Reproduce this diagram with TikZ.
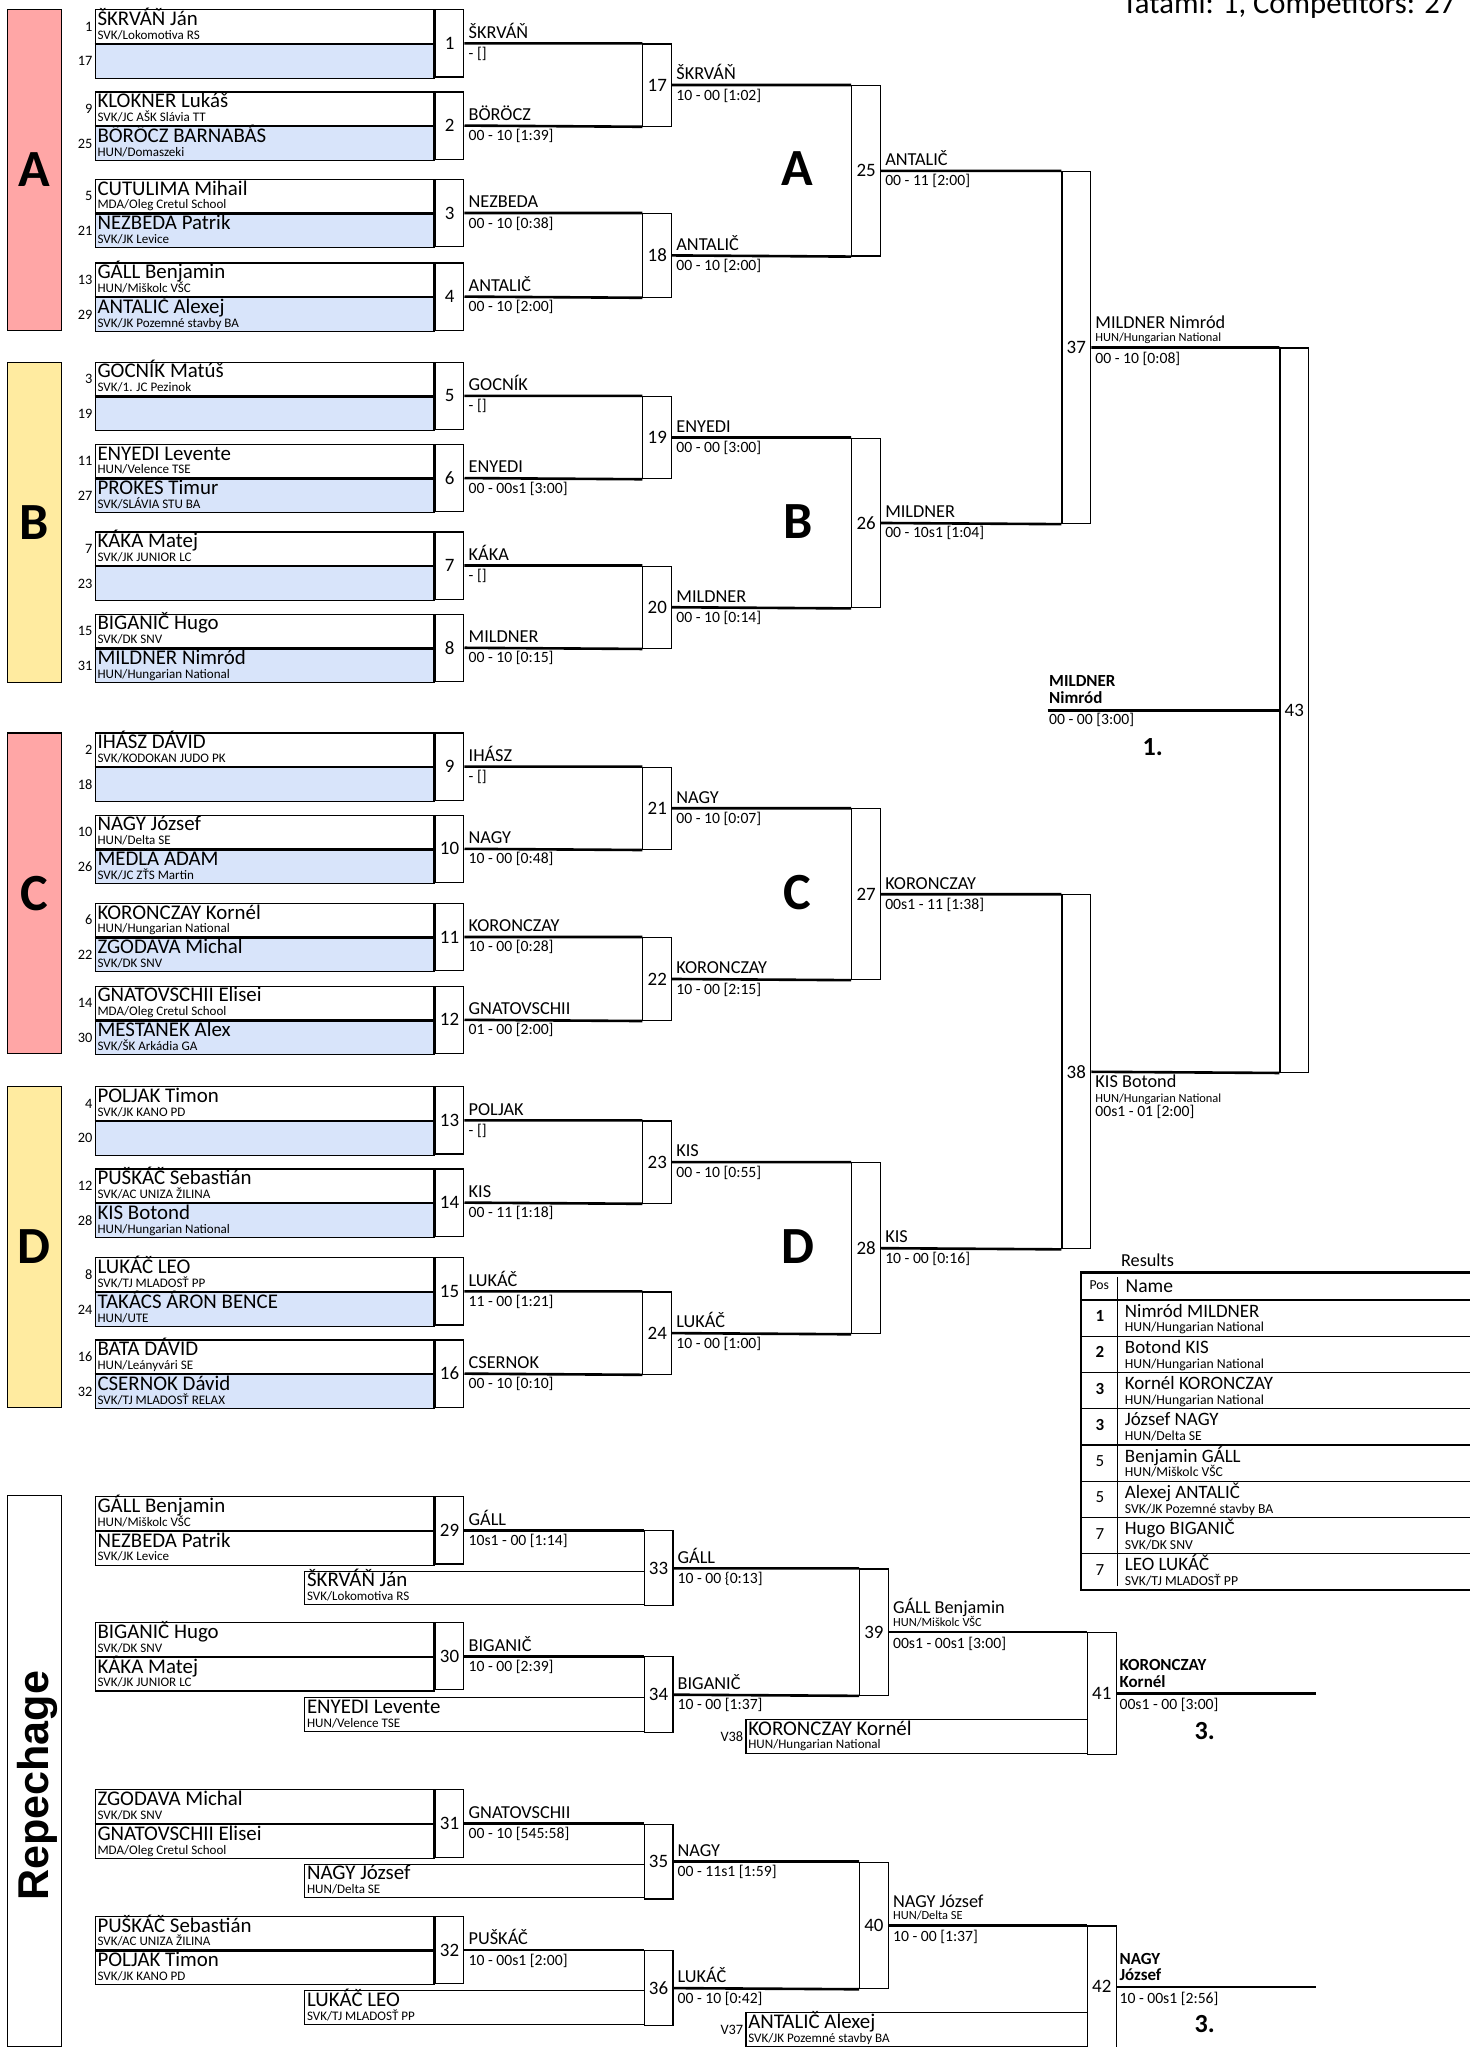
\documentclass[tikz,border=0pt]{standalone}
\usepackage{fontspec}
\setmainfont{Carlito}
\newfontfamily\repfont{Liberation Sans}
\usetikzlibrary{positioning,calc}

\definecolor{poolred}{RGB}{255,166,166}
\definecolor{poolyellow}{RGB}{255,235,160}
\definecolor{seedblue}{RGB}{216,228,250}

\newcommand{\fsz}[1]{\fontsize{#1}{#1}\selectfont}

\tikzset{
  cbox/.style={draw, line width=0.9pt, minimum width=259.5pt, minimum height=25.75pt, inner sep=0pt, anchor=north west},
  nbox/.style={draw, line width=0.9pt, minimum width=22pt, minimum height=51.5pt, inner sep=0pt, anchor=north west, font=\fsz{14.5}},
  rbox/.style={draw, line width=0.9pt, minimum width=22pt, inner sep=0pt, font=\fsz{14.5}},
  poolbox/.style={draw, line width=0.9pt, minimum width=41.5pt, minimum height=245.5pt, inner sep=0pt, anchor=north west, font=\bfseries\fsz{40}},
  bigletter/.style={font=\bfseries\fsz{40}, inner sep=0pt},
  seedlab/.style={font=\fsz{11}, inner sep=1.5pt},
  cname/.style={anchor=base west, inner sep=0pt, font=\fsz{16}},
  cclub/.style={anchor=base west, inner sep=0pt, font=\fsz{10}},
  wlab/.style={anchor=base west, inner sep=0pt, font=\fsz{14}},
  clab/.style={anchor=base west, inner sep=0pt, font=\fsz{9.5}},
  slab/.style={anchor=base west, inner sep=0pt, font=\fsz{12}},
  blab/.style={anchor=base west, inner sep=0pt, font=\bfseries\fsz{13}},
  place/.style={anchor=base west, inner sep=0pt, font=\bfseries\fsz{20}},
  winline/.style={line width=2pt},
  split/.style={line width=1.6pt},
  tabline/.style={line width=1pt},
}

% competitor box: node, position, fill, seed, name, club
\newcommand{\competitor}[6]{%
  \node[cbox, fill=#3, label={[seedlab]left:#4}] (#1) at #2 {};
  \node[cname] (#1n) at ([shift={(2,12.5)}]#1.north west) {#5};
  \node[cclub] (#1c) at ([shift={(2,23)}]#1.north west) {#6};
}
% single box: node, position, width, tag, name, club
\newcommand{\lonebox}[6]{%
  \node[cbox, minimum width=#3pt, fill=white, label={[seedlab]left:#4}] (#1) at #2 {};
  \node[cname] (#1n) at ([shift={(2,12.5)}]#1.north west) {#5};
  \node[cclub] (#1c) at ([shift={(2,23)}]#1.north west) {#6};
}
\newcommand{\result}[3]{%
  \node[wlab] (#1w) at ([shift={(3,-4)}]#1.east) {#2};
  \node[slab] (#1s) at ([shift={(3,11.5)}]#1.east) {#3};
}
% first bout: number, upper competitor, winner, score
\newcommand{\bout}[4]{%
  \node[nbox] (m#1) at (#2.north east) {#1};
  \draw[split] (#2.south west) -- (#2.south east);
  \result{m#1}{#3}{#4}
}
% later bout: node, left x, upper end, lower end, number
\newcommand{\roundbox}[5]{%
  \path let \p1=(#3), \p2=(#4) in
    node[rbox, anchor=north west, minimum height={\y1-(\y2)}] (#1) at (#2pt,\y1) {#5};
}

\begin{document}
\begin{tikzpicture}[x=1pt, y=-1pt]
\useasboundingbox (0,0) rectangle (1126,1568);
\node[anchor=base east, inner sep=0pt, font=\fsz{23.5}] (title) at (1115,10) {Tatami: 1, Competitors: 27};

% pool A
\node[poolbox, fill=poolred] (poolA) at (5,7) {A};
\competitor{s1}{(72.5,7)}{white}{1}{ŠKRVÁŇ Ján}{SVK/Lokomotiva RS}
\competitor{s17}{(s1.south west)}{seedblue}{17}{}{}
\bout{1}{s1}{ŠKRVÁŇ}{- []}
\competitor{s9}{(72.5,70)}{white}{9}{KLOKNER Lukáš}{SVK/JC AŠK Slávia TT}
\competitor{s25}{(s9.south west)}{seedblue}{25}{BÖRÖCZ BARNABÁS}{HUN/Domaszeki}
\bout{2}{s9}{BÖRÖCZ}{00 - 10 [1:39]}
\competitor{s5}{(72.5,137)}{white}{5}{CUTULIMA Mihail}{MDA/Oleg Cretul School}
\competitor{s21}{(s5.south west)}{seedblue}{21}{NEZBEDA Patrik}{SVK/JK Levice}
\bout{3}{s5}{NEZBEDA}{00 - 10 [0:38]}
\competitor{s13}{(72.5,201)}{white}{13}{GÁLL Benjamin}{HUN/Miškolc VŠC}
\competitor{s29}{(s13.south west)}{seedblue}{29}{ANTALIČ Alexej}{SVK/JK Pozemné stavby BA}
\bout{4}{s13}{ANTALIČ}{00 - 10 [2:00]}
\roundbox{m17}{492}{m1.east}{m2.east}{17}
\result{m17}{ŠKRVÁŇ}{10 - 00 [1:02]}
\roundbox{m18}{492}{m3.east}{m4.east}{18}
\result{m18}{ANTALIČ}{00 - 10 [2:00]}
\roundbox{m25}{652}{m17.east}{m18.east}{25}
\result{m25}{ANTALIČ}{00 - 11 [2:00]}
\node[bigletter] (letA) at ([shift={(-41,-2)}]m25.west) {A};

% pool B
\node[poolbox, fill=poolyellow] (poolB) at (5,277) {B};
\competitor{s3}{(72.5,277)}{white}{3}{GOCNÍK Matúš}{SVK/1. JC Pezinok}
\competitor{s19}{(s3.south west)}{seedblue}{19}{}{}
\bout{5}{s3}{GOCNÍK}{- []}
\competitor{s11}{(72.5,340)}{white}{11}{ENYEDI Levente}{HUN/Velence TSE}
\competitor{s27}{(s11.south west)}{seedblue}{27}{PROKEŠ Timur}{SVK/SLÁVIA STU BA}
\bout{6}{s11}{ENYEDI}{00 - 00s1 [3:00]}
\competitor{s7}{(72.5,407)}{white}{7}{KÁKA Matej}{SVK/JK JUNIOR LC}
\competitor{s23}{(s7.south west)}{seedblue}{23}{}{}
\bout{7}{s7}{KÁKA}{- []}
\competitor{s15}{(72.5,470)}{white}{15}{BIGANIČ Hugo}{SVK/DK SNV}
\competitor{s31}{(s15.south west)}{seedblue}{31}{MILDNER Nimród}{HUN/Hungarian National}
\bout{8}{s15}{MILDNER}{00 - 10 [0:15]}
\roundbox{m19}{492}{m5.east}{m6.east}{19}
\result{m19}{ENYEDI}{00 - 00 [3:00]}
\roundbox{m20}{492}{m7.east}{m8.east}{20}
\result{m20}{MILDNER}{00 - 10 [0:14]}
\roundbox{m26}{652}{m19.east}{m20.east}{26}
\result{m26}{MILDNER}{00 - 10s1 [1:04]}
\node[bigletter] (letB) at ([shift={(-41,-1)}]m26.west) {B};

% pool C
\node[poolbox, fill=poolred] (poolC) at (5,561) {C};
\competitor{s2}{(72.5,561)}{white}{2}{IHÁSZ DÁVID}{SVK/KODOKAN JUDO PK}
\competitor{s18}{(s2.south west)}{seedblue}{18}{}{}
\bout{9}{s2}{IHÁSZ}{- []}
\competitor{s10}{(72.5,624)}{white}{10}{NAGY József}{HUN/Delta SE}
\competitor{s26}{(s10.south west)}{seedblue}{26}{MEDLA ADAM}{SVK/JC ZŤS Martin}
\bout{10}{s10}{NAGY}{10 - 00 [0:48]}
\competitor{s6}{(72.5,691.5)}{white}{6}{KORONCZAY Kornél}{HUN/Hungarian National}
\competitor{s22}{(s6.south west)}{seedblue}{22}{ZGODAVA Michal}{SVK/DK SNV}
\bout{11}{s6}{KORONCZAY}{10 - 00 [0:28]}
\competitor{s14}{(72.5,755)}{white}{14}{GNATOVSCHII Elisei}{MDA/Oleg Cretul School}
\competitor{s30}{(s14.south west)}{seedblue}{30}{MESTANEK Alex}{SVK/ŠK Arkádia GA}
\bout{12}{s14}{GNATOVSCHII}{01 - 00 [2:00]}
\roundbox{m21}{492}{m9.east}{m10.east}{21}
\result{m21}{NAGY}{00 - 10 [0:07]}
\roundbox{m22}{492}{m11.east}{m12.east}{22}
\result{m22}{KORONCZAY}{10 - 00 [2:15]}
\roundbox{m27}{652}{m21.east}{m22.east}{27}
\result{m27}{KORONCZAY}{00s1 - 11 [1:38]}
\node[bigletter] (letC) at ([shift={(-41,-1)}]m27.west) {C};

% pool D
\node[poolbox, fill=poolyellow] (poolD) at (5,832) {D};
\competitor{s4}{(72.5,832)}{white}{4}{POLJAK Timon}{SVK/JK KANO PD}
\competitor{s20}{(s4.south west)}{seedblue}{20}{}{}
\bout{13}{s4}{POLJAK}{- []}
\competitor{s12}{(72.5,895)}{white}{12}{PUŠKÁČ Sebastián}{SVK/AC UNIZA ŽILINA}
\competitor{s28}{(s12.south west)}{seedblue}{28}{KIS Botond}{HUN/Hungarian National}
\bout{14}{s12}{KIS}{00 - 11 [1:18]}
\competitor{s8}{(72.5,963)}{white}{8}{LUKÁČ LEO}{SVK/TJ MLADOSŤ PP}
\competitor{s24}{(s8.south west)}{seedblue}{24}{TAKÁCS ÁRON BENCE}{HUN/UTE}
\bout{15}{s8}{LUKÁČ}{11 - 00 [1:21]}
\competitor{s16}{(72.5,1026)}{white}{16}{BATA DÁVID}{HUN/Leányvári SE}
\competitor{s32}{(s16.south west)}{seedblue}{32}{CSERNOK Dávid}{SVK/TJ MLADOSŤ RELAX}
\bout{16}{s16}{CSERNOK}{00 - 10 [0:10]}
\roundbox{m23}{492}{m13.east}{m14.east}{23}
\result{m23}{KIS}{00 - 10 [0:55]}
\roundbox{m24}{492}{m15.east}{m16.east}{24}
\result{m24}{LUKÁČ}{10 - 00 [1:00]}
\roundbox{m28}{652}{m23.east}{m24.east}{28}
\result{m28}{KIS}{10 - 00 [0:16]}
\node[bigletter] (letD) at ([shift={(-41,-1)}]m28.west) {D};

% semi-finals and final
\roundbox{m37}{813}{m25.east}{m26.east}{37}
\node[wlab] (m37w) at ([shift={(3,-14.5)}]m37.east) {MILDNER Nimród};
\node[clab] (m37c) at ([shift={(3,-4.8)}]m37.east) {HUN/Hungarian National};
\node[slab] (m37s) at ([shift={(3,12.5)}]m37.east) {00 - 10 [0:08]};
\roundbox{m38}{813}{m27.east}{m28.east}{38}
\node[wlab] (m38w) at ([shift={(3,12.1)}]m38.east) {KIS Botond};
\node[clab] (m38c) at ([shift={(3,23.6)}]m38.east) {HUN/Hungarian National};
\node[slab] (m38s) at ([shift={(3,34.3)}]m38.east) {00s1 - 01 [2:00]};
\roundbox{m43}{980}{m37.east}{m38.east}{43}
\coordinate (fin) at ([xshift=-177.5]m43.west);
\node[blab] (finw) at ([shift={(1,-18)}]fin) {MILDNER};
\node[blab] (finw2) at ([shift={(1,-5)}]fin) {Nimród};
\node[slab] (fins) at ([shift={(1,11)}]fin) {00 - 00 [3:00]};
\node[place] (first) at ([shift={(72.5,34.5)}]fin) {1.};

% results
\node[anchor=base west, inner sep=0pt, font=\fsz{14}] (restitle) at (858.5,970) {Results};
\draw[line width=2pt] (1130,974.6) -- (828,974.6) -- (828,1218) -- (1130,1218);
\draw[tabline] (828,995.8) -- (1130,995.8);
\foreach \i in {1,...,7}
  \draw[tabline] (828,995.8+27.75*\i) -- (1130,995.8+27.75*\i);
\draw[line width=0.8pt] (855.9,978) -- (855.9,1215);
\node[anchor=base, inner sep=0pt, font=\fsz{10.5}] (poshead) at (842,988) {Pos};
\node[anchor=base west, inner sep=0pt, font=\fsz{15}] (namehead) at (862,990.2) {Name};
\foreach \p/\n/\c [count=\i from 0] in {
  {\textbf{1}}/Nimród MILDNER/{HUN/Hungarian National},
  {\textbf{2}}/Botond KIS/{HUN/Hungarian National},
  {\textbf{3}}/Kornél KORONCZAY/{HUN/Hungarian National},
  {\textbf{3}}/József NAGY/{HUN/Delta SE},
  5/Benjamin GÁLL/{HUN/Miškolc VŠC},
  5/Alexej ANTALIČ/{SVK/JK Pozemné stavby BA},
  7/Hugo BIGANIČ/{SVK/DK SNV},
  7/LEO LUKÁČ/{SVK/TJ MLADOSŤ PP}}{
  \node[anchor=base, inner sep=0pt, font=\fsz{13}] (pos\i) at (842.5,1012.4+27.75*\i) {\p};
  \node[anchor=base west, inner sep=0pt, font=\fsz{14.5}] (res\i) at (861.5,1009+27.75*\i) {\n};
  \node[anchor=base west, inner sep=0pt, font=\fsz{10.5}] (club\i) at (861.5,1020.2+27.75*\i) {\c};
}

% repechage
\node[draw, line width=0.9pt, minimum width=41.5pt, minimum height=422pt, anchor=north west, inner sep=0pt] (rep) at (5,1145) {};
\node[rotate=90, anchor=base, inner sep=0pt, font=\repfont\bfseries\fsz{33}] (reptxt) at (37,1368) {Repechage};
\competitor{g29a}{(72.5,1146)}{white}{}{GÁLL Benjamin}{HUN/Miškolc VŠC}
\competitor{g29b}{(g29a.south west)}{white}{}{NEZBEDA Patrik}{SVK/JK Levice}
\bout{29}{g29a}{GÁLL}{10s1 - 00 [1:14]}
\lonebox{q33}{(233,1203)}{260}{}{ŠKRVÁŇ Ján}{SVK/Lokomotiva RS}
\roundbox{m33}{493}{m29.east}{q33.south}{33}
\result{m33}{GÁLL}{10 - 00 \{0:13]}
\competitor{g30a}{(72.5,1242.5)}{white}{}{BIGANIČ Hugo}{SVK/DK SNV}
\competitor{g30b}{(g30a.south west)}{white}{}{KÁKA Matej}{SVK/JK JUNIOR LC}
\bout{30}{g30a}{BIGANIČ}{10 - 00 [2:39]}
\lonebox{q34}{(233,1300)}{260}{}{ENYEDI Levente}{HUN/Velence TSE}
\roundbox{m34}{493}{m30.east}{q34.south}{34}
\result{m34}{BIGANIČ}{10 - 00 [1:37]}
\roundbox{m39}{658}{m33.east}{m34.east}{39}
\node[wlab] (m39w) at ([shift={(3,-14)}]m39.east) {GÁLL Benjamin};
\node[clab] (m39c) at ([shift={(3,-4.5)}]m39.east) {HUN/Miškolc VŠC};
\node[slab] (m39s) at ([shift={(3,12.3)}]m39.east) {00s1 - 00s1 [3:00]};
\lonebox{v38}{(571,1316.7)}{261.5}{V38}{KORONCZAY Kornél}{HUN/Hungarian National}
\roundbox{m41}{832.5}{m39.east}{v38.south east}{41}
\coordinate (end41) at ([xshift=153]m41.east);
\node[blab] (m41w) at ([shift={(2,-17.4)}]m41.east) {KORONCZAY};
\node[blab] (m41w2) at ([shift={(2,-4.6)}]m41.east) {Kornél};
\node[slab] (m41s) at ([shift={(2,12.5)}]m41.east) {00s1 - 00 [3:00]};
\node[place] (third1) at ([shift={(59.5,35)}]m41.east) {3.};

\competitor{g31a}{(72.5,1370.6)}{white}{}{ZGODAVA Michal}{SVK/DK SNV}
\competitor{g31b}{(g31a.south west)}{white}{}{GNATOVSCHII Elisei}{MDA/Oleg Cretul School}
\bout{31}{g31a}{GNATOVSCHII}{00 - 10 [545:58]}
\lonebox{q35}{(233,1427.5)}{260}{}{NAGY József}{HUN/Delta SE}
\roundbox{m35}{493}{m31.east}{q35.south}{35}
\result{m35}{NAGY}{00 - 11s1 [1:59]}
\competitor{g32a}{(72.5,1467.5)}{white}{}{PUŠKÁČ Sebastián}{SVK/AC UNIZA ŽILINA}
\competitor{g32b}{(g32a.south west)}{white}{}{POLJAK Timon}{SVK/JK KANO PD}
\bout{32}{g32a}{PUŠKÁČ}{10 - 00s1 [2:00]}
\lonebox{q36}{(233,1524.5)}{260}{}{LUKÁČ LEO}{SVK/TJ MLADOSŤ PP}
\roundbox{m36}{493}{m32.east}{q36.south}{36}
\result{m36}{LUKÁČ}{00 - 10 [0:42]}
\roundbox{m40}{658}{m35.east}{m36.east}{40}
\node[wlab] (m40w) at ([shift={(3,-14)}]m40.east) {NAGY József};
\node[clab] (m40c) at ([shift={(3,-4.5)}]m40.east) {HUN/Delta SE};
\node[slab] (m40s) at ([shift={(3,12.3)}]m40.east) {10 - 00 [1:37]};
\lonebox{v37}{(571,1541.4)}{261.5}{V37}{ANTALIČ Alexej}{SVK/JK Pozemné stavby BA}
\roundbox{m42}{832.5}{m40.east}{v37.south east}{42}
\coordinate (end42) at ([xshift=153]m42.east);
\node[blab] (m42w) at ([shift={(2,-17.4)}]m42.east) {NAGY};
\node[blab] (m42w2) at ([shift={(2,-4.6)}]m42.east) {József};
\node[slab] (m42s) at ([shift={(2,12.5)}]m42.east) {10 - 00s1 [2:56]};
\node[place] (third2) at ([shift={(59.5,35)}]m42.east) {3.};

% winner lines
\foreach \a/\b/\c in {1/2/17, 3/4/18, 5/6/19, 7/8/20, 9/10/21, 11/12/22, 13/14/23, 15/16/24,
    17/18/25, 19/20/26, 21/22/27, 23/24/28, 25/26/37, 27/28/38, 37/38/43, 33/34/39, 35/36/40}
  \draw[winline] (m\a.east) -- (m\c.north west) (m\b.east) -- (m\c.south west);
\path[winline]
  (m29.east) edge (m33.north west)
  (m30.east) edge (m34.north west)
  (m31.east) edge (m35.north west)
  (m32.east) edge (m36.north west)
  (m39.east) edge (m41.north west)
  (m40.east) edge (m42.north west)
  (m41.east) edge (end41)
  (m42.east) edge (end42)
  (fin) edge (m43.west);
\end{tikzpicture}
\end{document}
